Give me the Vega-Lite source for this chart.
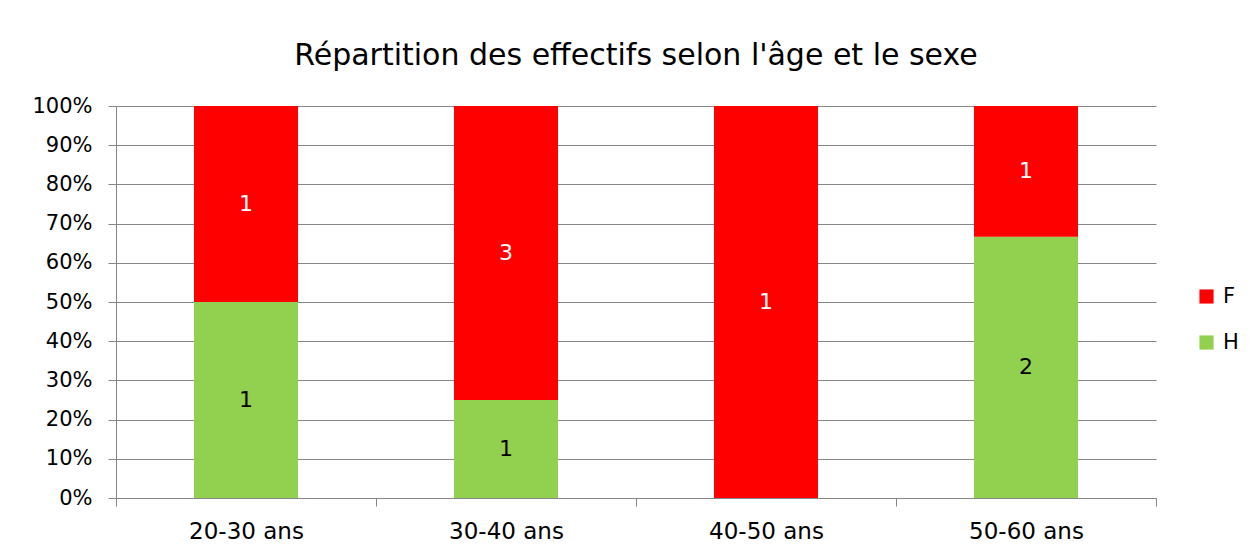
{
  "$schema": "https://vega.github.io/schema/vega-lite/v6.json",
  "autosize": "none",
  "width": 1040,
  "height": 392,
  "padding": {"left": 116, "top": 106, "right": 97, "bottom": 60},
  "background": "white",
  "title": {
    "text": "Répartition des effectifs selon l'âge et le sexe",
    "font": "DejaVu Sans",
    "fontSize": 30,
    "fontWeight": "normal",
    "color": "#000000",
    "anchor": "middle",
    "baseline": "alphabetic",
    "offset": 0
  },
  "config": {
    "font": "DejaVu Sans",
    "view": {"stroke": null},
    "axisY": {
      "title": null, "format": ".0%",
      "labelOverlap": false, "labelFontSize": 21, "labelColor": "#000000", "labelPadding": 16,
      "tickSize": 8, "tickColor": "#868686", "domainColor": "#868686",
      "grid": true, "gridColor": "#868686", "gridWidth": 1
    },
    "axisX": {
      "title": null, "labelAngle": 0, "labelFontSize": 23, "labelColor": "#000000",
      "labelPadding": 14, "tickBand": "extent", "tickSize": 8, "tickColor": "#868686",
      "domainColor": "#868686", "grid": false
    }
  },
  "data": {
    "values": [
      {"age": "20-30 ans", "sexe": "H", "n": 1},
      {"age": "20-30 ans", "sexe": "F", "n": 1},
      {"age": "30-40 ans", "sexe": "H", "n": 1},
      {"age": "30-40 ans", "sexe": "F", "n": 3},
      {"age": "40-50 ans", "sexe": "F", "n": 1},
      {"age": "50-60 ans", "sexe": "H", "n": 2},
      {"age": "50-60 ans", "sexe": "F", "n": 1}
    ]
  },
  "transform": [
    {"stack": "n", "groupby": ["age"], "sort": [{"field": "sexe", "order": "descending"}], "offset": "normalize", "as": ["y0", "y1"]},
    {"calculate": "(datum.y0 + datum.y1) / 2", "as": "ymid"}
  ],
  "encoding": {
    "x": {
      "field": "age", "type": "nominal", "sort": ["20-30 ans", "30-40 ans", "40-50 ans", "50-60 ans"],
      "scale": {"paddingInner": 0, "paddingOuter": 0},
      "axis": {"title": null}
    }
  },
  "layer": [
    {
      "mark": {"type": "bar", "width": {"band": 0.4}},
      "encoding": {
        "y": {
          "field": "y0", "type": "quantitative",
          "scale": {"domain": [0, 1], "nice": false},
          "axis": {"title": null, "values": [0, 0.1, 0.2, 0.3, 0.4, 0.5, 0.6, 0.7, 0.8, 0.9, 1], "tickCount": 20, "format": ".0%", "labelOverlap": false}
        },
        "y2": {"field": "y1"},
        "color": {
          "field": "sexe", "type": "nominal",
          "scale": {"domain": ["F", "H"], "range": ["#FF0000", "#92D050"]},
          "legend": {
            "title": null, "orient": "none", "legendX": 1080, "legendY": 180,
            "symbolType": "square", "symbolSize": 200, "symbolStrokeWidth": 0,
            "labelFontSize": 21, "labelColor": "#000000", "rowPadding": 24, "labelOffset": 6
          }
        }
      }
    },
    {
      "mark": {"type": "text", "fontSize": 22, "baseline": "middle", "align": "center"},
      "encoding": {
        "y": {
          "field": "ymid", "type": "quantitative",
          "axis": {"title": null, "values": [0, 0.1, 0.2, 0.3, 0.4, 0.5, 0.6, 0.7, 0.8, 0.9, 1], "tickCount": 20, "format": ".0%", "labelOverlap": false}
        },
        "text": {"field": "n", "type": "quantitative"},
        "color": {"condition": {"test": "datum.sexe == 'F'", "value": "#FFFFFF"}, "value": "#000000"}
      }
    }
  ]
}
